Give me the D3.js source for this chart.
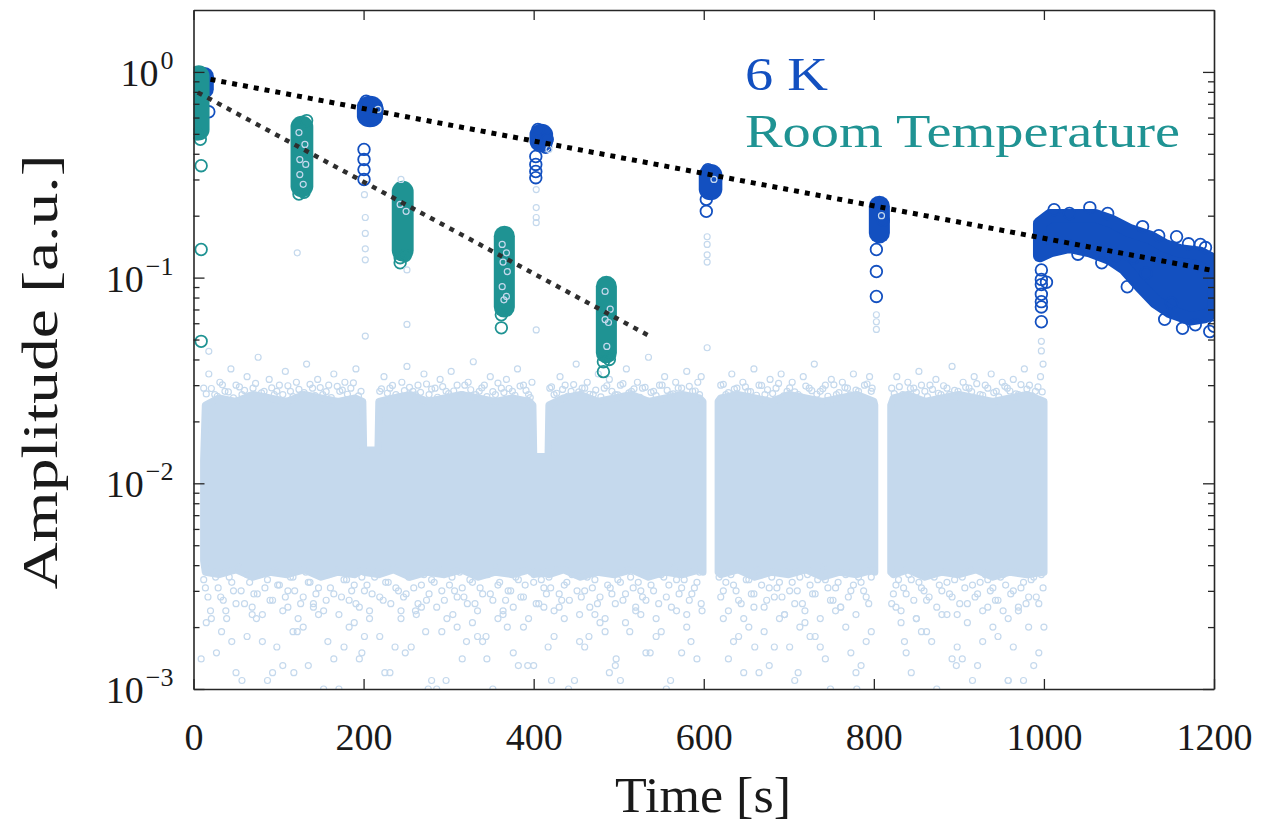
<!DOCTYPE html>
<html>
<head>
<meta charset="utf-8">
<script src="https://cdn.jsdelivr.net/npm/d3@7"></script>
<style>
  html, body { margin: 0; padding: 0; background: #ffffff; }
  svg { display: block; font-family: "Liberation Serif", "Times New Roman", serif; }
</style>
</head>
<body>
<svg id="chart" width="1268" height="825"></svg>
<script>
// ---------- axis ticks ----------
const xTickValues = [0, 200, 400, 600, 800, 1000, 1200];
const xTickLabels = ["0", "200", "400", "600", "800", "1000", "1200"];
const yTickValues = [1e-3, 1e-2, 1e-1, 1];
const yTickExponents = ["\u22123", "\u22122", "\u22121", "0"];
const yMinorTicks = [0.002,0.003,0.004,0.005,0.006,0.007,0.008,0.009,
                     0.02,0.03,0.04,0.05,0.06,0.07,0.08,0.09,
                     0.2,0.3,0.4,0.5,0.6,0.7,0.8,0.9];

// ---------- 6 K series ----------
// dense bursts: [start, end] time and [low, high] amplitude of the packed markers
const k6BurstTime = [[10, 16], [200, 215], [403, 415], [602, 614], [802, 811]];
const k6BurstAmp  = [[0.80, 0.98], [0.58, 0.71], [0.439, 0.519], [0.256, 0.331], [0.158, 0.232]];
// continuous record after 1000 s: upper and lower envelope of the marker centres
const k6BandTopTime = [995, 1007, 1036, 1060, 1078, 1101, 1125, 1142, 1160, 1184, 1200];
const k6BandTopAmp  = [0.183, 0.200, 0.200, 0.200, 0.189, 0.169, 0.157, 0.143, 0.135, 0.131, 0.121];
const k6BandBotTime = [995, 1007, 1030, 1054, 1078, 1095, 1113, 1131, 1148, 1172, 1189, 1200];
const k6BandBotAmp  = [0.128, 0.135, 0.142, 0.135, 0.124, 0.111, 0.0914, 0.0764, 0.0684, 0.0631, 0.0646, 0.0684];
// individual 6 K markers
const k6Points = [
  [17,0.92],[18,0.64],
  [200.5,0.42],[200.5,0.375],[200.5,0.335],[200.5,0.30],[216,0.66],[214,0.60],[203,0.72],[211,0.585],
  [402.5,0.388],[402.5,0.355],[402.5,0.328],[402.5,0.306],[416,0.47],[414,0.43],[405,0.525],
  [603,0.24],[603,0.21],[614,0.30],[605,0.335],
  [803,0.137],[803,0.107],[803,0.081],[811,0.19],
  [997,0.109],[997,0.098],[997,0.0925],[997,0.083],[997,0.0764],[997,0.072],[997,0.061],[1003,0.095],
  [1068,0.118],[1098,0.0903],[1142,0.0627],[1156,0.158],[1184,0.145],[1195,0.0547],[1163,0.0567],
  [1012,0.214],[1054,0.219],[1116,0.177],[1030,0.205],[1075,0.205],[1105,0.125],[1120,0.105],
  [1150,0.075],[1178,0.059],[1200,0.058],[1135,0.16],[1170,0.146],[1190,0.14],[1040,0.13],[1085,0.128]
];

// ---------- room-temperature series ----------
const rtBurstTime = [[1, 11], [122, 133], [241, 251], [361, 370], [481, 490]];
const rtBurstAmp  = [[0.50, 1.0], [0.265, 0.568], [0.129, 0.274], [0.069, 0.166], [0.0413, 0.0946]];
const rtPoints = [
  [8,0.47],[9,0.35],[9,0.137],[9,0.049],[4,0.5],
  [124,0.255],[130,0.26],[133,0.58],
  [243,0.125],[243,0.118],[249,0.128],
  [362,0.066],[362,0.057],
  [482,0.039],[482,0.0349],[489,0.04]
];

// ---------- exponential fits ----------
const fit6KTime = [20, 1200];
const fit6KAmp  = [0.92, 0.108];
const fitRTTime = [5, 540];
const fitRTAmp  = [0.795, 0.051];

// ---------- background (noise) record ----------
// packed core: one envelope per uninterrupted stretch
const noiseCoreTime = [
  [12,14,30,50,70,90,110,130,150,170,190,199,200,217,218,235,255,275,295,315,335,355,375,395,399,400,417,418,435,455,475,495,515,535,555,575,595,599],
  [617,620,640,660,680,700,720,740,760,780,800,801],
  [820,823,840,860,880,900,920,940,960,980,1000]
];
const noiseCoreHigh = [
  [0.013,0.024,0.026,0.025,0.027,0.026,0.025,0.027,0.026,0.025,0.026,0.025,0.0145,0.0145,0.025,0.026,0.027,0.025,0.026,0.027,0.026,0.025,0.026,0.025,0.024,0.0135,0.0135,0.024,0.026,0.027,0.025,0.026,0.027,0.025,0.026,0.027,0.026,0.025],
  [0.025,0.026,0.027,0.026,0.025,0.027,0.026,0.025,0.026,0.027,0.025,0.024],
  [0.024,0.026,0.027,0.025,0.026,0.027,0.026,0.025,0.026,0.027,0.025]
];
const noiseCoreLow = [
  [0.0042,0.0037,0.0036,0.0038,0.0035,0.0037,0.0036,0.0038,0.0035,0.0037,0.0036,0.0038,0.0037,0.0036,0.0036,0.0038,0.0035,0.0037,0.0036,0.0038,0.0035,0.0037,0.0036,0.0038,0.0037,0.0036,0.0037,0.0036,0.0038,0.0035,0.0037,0.0036,0.0038,0.0035,0.0037,0.0036,0.0038,0.0037],
  [0.0037,0.0036,0.0038,0.0035,0.0037,0.0036,0.0038,0.0035,0.0037,0.0036,0.0038,0.0037],
  [0.0037,0.0036,0.0038,0.0035,0.0037,0.0036,0.0038,0.0035,0.0037,0.0036,0.0037]
];
// scattered markers above the core
const noiseUpperPts = [
  [12,0.029],[18,0.034],[25,0.027],[31,0.031],[37,0.028],[44,0.036],[50,0.030],[57,0.027],[63,0.033],[70,0.029],
  [76,0.041],[83,0.028],[89,0.032],[95,0.027],[101,0.030],[108,0.035],[114,0.028],[121,0.031],[127,0.027],[133,0.038],
  [140,0.029],[146,0.032],[152,0.027],[159,0.030],[165,0.034],[172,0.028],[178,0.031],[185,0.029],[191,0.036],[197,0.028],
  [219,0.028],[224,0.033],[231,0.029],[238,0.027],[245,0.031],[251,0.037],[258,0.028],[264,0.030],[271,0.034],[277,0.027],
  [284,0.029],[290,0.032],[297,0.028],[303,0.035],[310,0.030],[316,0.027],[323,0.031],[329,0.039],[336,0.028],[342,0.030],
  [349,0.033],[355,0.027],[362,0.029],[368,0.032],[375,0.028],[381,0.036],[388,0.030],[394,0.027],[398,0.031],
  [419,0.029],[424,0.027],[431,0.033],[437,0.030],[444,0.028],[450,0.038],[457,0.029],[463,0.031],[470,0.027],[476,0.034],
  [483,0.029],[489,0.032],[496,0.027],[502,0.030],[509,0.036],[515,0.028],[522,0.031],[528,0.029],[535,0.041],[541,0.028],
  [548,0.030],[554,0.033],[561,0.027],[567,0.031],[574,0.029],[580,0.035],[587,0.028],[593,0.031],[597,0.033],
  [620,0.030],[626,0.027],[633,0.034],[639,0.029],[646,0.031],[652,0.028],[659,0.036],[665,0.030],[672,0.027],[678,0.032],
  [685,0.029],[691,0.034],[698,0.028],[704,0.031],[711,0.027],[717,0.033],[724,0.029],[730,0.038],[737,0.028],[743,0.030],
  [750,0.032],[756,0.027],[763,0.031],[769,0.029],[776,0.034],[782,0.028],[789,0.030],[795,0.033],[798,0.029],
  [821,0.029],[827,0.033],[834,0.027],[840,0.031],[847,0.029],[853,0.035],[860,0.028],[866,0.030],[873,0.032],[879,0.027],
  [886,0.029],[892,0.037],[899,0.028],[905,0.031],[912,0.029],[918,0.033],[925,0.027],[931,0.030],[938,0.034],[944,0.028],
  [951,0.031],[957,0.029],[964,0.032],[970,0.027],[977,0.036],[983,0.030],[990,0.028],[996,0.033],[999,0.038]
];
// markers hugging the top of the core
const noiseRimTime = [15,21,28,34,41,47,54,60,67,73,80,86,92,98,105,111,117,124,130,137,143,149,156,162,169,175,181,188,194,
  221,228,234,241,248,254,261,267,274,280,287,293,300,306,313,319,326,332,339,345,352,358,365,371,378,384,391,396,
  421,427,434,440,447,453,460,466,473,479,486,492,499,505,512,518,525,531,538,544,551,557,564,570,577,583,590,595,
  623,629,636,642,649,655,662,668,675,681,688,694,701,707,714,720,727,733,740,746,753,759,766,772,779,785,792,797,
  824,830,837,843,850,856,863,869,876,882,889,895,902,908,915,921,928,934,941,947,954,960,967,973,980,986,993,998];
const noiseRimAmp = [
  0.0272,0.0289,0.0265,0.0301,0.0278,0.0260,0.0294,0.0283,0.0268,0.0306,0.0275,0.0262,0.0291,0.0280,0.0270,0.0298,0.0264,0.0286,0.0276,0.0303,
  0.0267,0.0292,0.0279,0.0261,0.0296,0.0284,0.0271,0.0308,0.0266,0.0288,0.0274,0.0299,0.0263,0.0282,0.0293,0.0269,0.0277,0.0304,0.0287,0.0262,
  0.0295,0.0273,0.0281,0.0266,0.0300,0.0285,0.0270,0.0291,0.0264,0.0279,0.0307,0.0276,0.0289,0.0268,0.0297,0.0283,0.0261,0.0294,0.0274,0.0286,
  0.0265,0.0302,0.0278,0.0290,0.0271,0.0284,0.0263,0.0298,0.0280,0.0269,0.0305,0.0275,0.0288,0.0262,0.0293,0.0277,0.0267,0.0300,0.0283,0.0272,
  0.0290,0.0264,0.0296,0.0281,0.0270,0.0303,0.0276,0.0287,0.0261,0.0294,0.0279,0.0268,0.0299,0.0285,0.0273,0.0306,0.0266,0.0291,0.0278,0.0263,
  0.0297,0.0282,0.0271,0.0288,0.0265,0.0301,0.0276,0.0292,0.0269,0.0284,0.0262,0.0304,0.0280,0.0273,0.0295,0.0267,0.0289,0.0277,0.0300,0.0264,
  0.0286,0.0274,0.0298,0.0270,0.0283,0.0261,0.0293,0.0279,0.0305,0.0268,0.0290,0.0276,0.0263,0.0296,0.0281,0.0272,0.0302,0.0287,0.0266,0.0294,
  0.0278,0.0285,0.0271,0.0299];
// semi-packed markers just below the core
const noiseLowerTime = [12,17,24,29,35,42,47,53,60,66,71,78,84,90,96,101,108,114,119,126,
  132,137,144,150,156,161,168,174,180,186,191,198,204,210,216,223,229,234,241,247,
  253,259,264,271,277,283,289,295,301,307,313,318,325,331,337,343,349,355,360,367,
  373,379,385,390,397,403,409,415,420,427,433,439,445,451,456,463,469,475,481,487,
  492,499,505,511,517,523,528,535,541,547,553,559,565,571,577,583,589,595,620,626,
  632,638,644,650,656,662,668,674,680,686,692,698,704,710,716,722,728,734,740,746,
  752,758,764,770,776,782,788,794,799,823,829,835,841,847,853,859,865,871,877,883,
  889,895,901,907,913,919,925,931,937,943,949,955,961,967,973,979,985,991,997];
const noiseLowerAmp = [
  0.0034,0.0028,0.0037,0.0031,0.0027,0.0035,0.0030,0.0039,0.0026,0.0033,0.0029,0.0036,0.0031,0.0027,0.0038,0.0032,0.0028,0.0035,0.0030,0.0026,
  0.0037,0.0033,0.0029,0.0036,0.0027,0.0031,0.0038,0.0028,0.0034,0.0030,0.0026,0.0035,0.0032,0.0029,0.0037,0.0027,0.0033,0.0039,0.0030,0.0028,
  0.0035,0.0031,0.0026,0.0036,0.0029,0.0033,0.0038,0.0027,0.0032,0.0030,0.0037,0.0028,0.0034,0.0026,0.0031,0.0036,0.0029,0.0039,0.0033,0.0027,
  0.0030,0.0035,0.0028,0.0032,0.0037,0.0026,0.0034,0.0029,0.0031,0.0038,0.0027,0.0033,0.0036,0.0030,0.0028,0.0035,0.0031,0.0026,0.0037,0.0032,
  0.0029,0.0034,0.0027,0.0038,0.0031,0.0033,0.0028,0.0036,0.0030,0.0026,0.0035,0.0032,0.0039,0.0029,0.0034,0.0027,0.0031,0.0037,0.0028,0.0033,
  0.0036,0.0030,0.0026,0.0034,0.0029,0.0038,0.0032,0.0027,0.0035,0.0031,0.0028,0.0037,0.0033,0.0030,0.0026,0.0036,0.0029,0.0034,0.0039,0.0031,
  0.0027,0.0033,0.0037,0.0028,0.0032,0.0035,0.0030,0.0026,0.0038,0.0029,0.0034,0.0031,0.0036,0.0027,0.0033,0.0030,0.0028,0.0035,0.0032,0.0037,
  0.0029,0.0034,0.0026,0.0031,0.0038,0.0028,0.0033,0.0036,0.0030,0.0027,0.0035,0.0032,0.0029,0.0037,0.0031,0.0026,0.0034,0.0028,0.0036];
const noiseLower2Time = [14,20,26,32,39,45,50,56,63,69,75,81,87,93,99,105,111,117,123,129,
  135,141,147,153,159,165,171,177,183,189,195,201,207,213,219,226,232,238,244,250,
  256,262,268,274,280,286,292,298,304,310,316,322,328,334,340,346,352,358,364,370,
  376,382,388,394,400,406,412,418,424,430,436,442,448,454,460,466,472,478,484,490,
  496,502,508,514,520,526,532,538,544,550,556,562,568,574,580,586,592,597,618,623,
  629,635,641,647,653,659,665,671,677,683,689,695,701,707,713,719,725,731,737,743,
  749,755,761,767,773,779,785,791,797,821,826,832,838,844,850,856,862,868,874,880,
  886,892,898,904,910,916,922,928,934,940,946,952,958,964,970,976,982,988,994,999];
const noiseLower2Amp = [
  0.0031,0.0024,0.0035,0.0028,0.0022,0.0033,0.0026,0.0030,0.0036,0.0025,0.0029,0.0023,0.0034,0.0027,0.0032,0.0024,0.0030,0.0035,0.0022,0.0028,
  0.0033,0.0026,0.0031,0.0024,0.0036,0.0029,0.0023,0.0034,0.0027,0.0032,0.0025,0.0030,0.0022,0.0035,0.0028,0.0033,0.0026,0.0031,0.0024,0.0029,
  0.0036,0.0023,0.0032,0.0027,0.0034,0.0025,0.0030,0.0022,0.0035,0.0028,0.0031,0.0026,0.0033,0.0024,0.0029,0.0036,0.0027,0.0032,0.0023,0.0030,
  0.0025,0.0034,0.0028,0.0022,0.0033,0.0026,0.0031,0.0035,0.0024,0.0029,0.0032,0.0027,0.0036,0.0023,0.0030,0.0025,0.0034,0.0028,0.0022,0.0031,
  0.0026,0.0033,0.0029,0.0035,0.0024,0.0030,0.0027,0.0032,0.0022,0.0036,0.0028,0.0025,0.0034,0.0031,0.0023,0.0029,0.0033,0.0026,0.0035,0.0030,
  0.0024,0.0032,0.0027,0.0022,0.0034,0.0029,0.0036,0.0025,0.0031,0.0028,0.0033,0.0023,0.0030,0.0026,0.0035,0.0024,0.0032,0.0029,0.0022,0.0034,
  0.0027,0.0031,0.0025,0.0036,0.0030,0.0023,0.0033,0.0028,0.0035,0.0026,0.0032,0.0024,0.0029,0.0034,0.0022,0.0031,0.0027,0.0036,0.0025,0.0030,
  0.0033,0.0028,0.0023,0.0035,0.0026,0.0032,0.0029,0.0024,0.0034,0.0031,0.0027,0.0036,0.0022,0.0030,0.0025,0.0033,0.0028,0.0035,0.0026,0.0031];
// sparse tail down to 1e-3
const noiseTailTime = [15,27,38,50,63,74,87,98,111,122,135,147,158,171,183,195,207,219,231,244,
  256,268,280,292,305,316,328,340,352,364,376,388,400,412,424,436,448,460,472,484,
  496,508,520,532,544,556,568,580,592,623,635,647,659,671,683,695,707,719,731,743,
  755,767,779,791,826,838,850,862,874,886,898,910,922,934,946,958,970,982,994,
  21,45,69,93,117,141,165,189,237,261,286,310,334,358,382,430,454,478,502,526,
  550,574,598,641,665,689,713,737,761,785,832,856,880,904,928,952,976,1000,
  9,33,57,81,105,129,153,177,201,225,249,273,297,321,345,369,393,417,441,465,
  489,513,537,561,585,629,653,677,701,725,749,773,797,844,868,892,916,940,964,988,
  52,118,198,276,344,421,497,563,660,711,780,836,897,958];
const noiseTailAmp = [
  0.0021,0.0015,0.0024,0.0012,0.0018,0.0022,0.0011,0.0016,0.0025,0.0019,0.0013,0.0023,0.0017,0.0010,0.0020,0.0014,0.0024,0.0018,0.0012,0.0022,
  0.0016,0.0025,0.0011,0.0019,0.0023,0.0014,0.0021,0.0017,0.0010,0.0024,0.0015,0.0020,0.0013,0.0025,0.0018,0.0022,0.0011,0.0016,0.0023,0.0019,
  0.0013,0.0021,0.0025,0.0015,0.0018,0.0010,0.0024,0.0020,0.0014,0.0022,0.0017,0.0012,0.0025,0.0019,0.0016,0.0023,0.0011,0.0021,0.0018,0.0014,
  0.0024,0.0020,0.0012,0.0017,0.0025,0.0015,0.0022,0.0019,0.0010,0.0023,0.0016,0.0021,0.0013,0.0025,0.0018,0.0011,0.0024,0.0020,0.0015,0.0022,
  0.0017,0.0023,0.0012,0.0019,0.0025,0.0014,0.0021,0.0016,0.0024,0.0010,0.0020,0.0018,0.0022,0.0013,0.0025,0.0017,0.0021,0.0011,0.0023,0.0019,
  0.0015,0.0024,0.0018,0.0012,0.0022,0.0020,0.0016,0.0025,0.0013,0.0021,0.0019,0.0023,0.0014,0.0017,0.0024,0.0011,0.0020,
  0.0014,0.0019,0.0011,0.0017,0.0013,0.0020,0.0010,0.0016,0.0018,0.0012,0.0015,0.0019,0.0011,0.0017,0.0014,0.0020,0.0013,0.0016,0.0010,0.0018,
  0.0012,0.0019,0.0015,0.0011,0.0017,0.0014,0.0020,0.0013,0.0016,0.0018,0.0010,0.0015,0.0019,0.0012,0.0017,0.0014,0.0011,0.0020,0.0016,0.0013,
  0.0009,0.0012,0.0015,0.0010,0.0018,0.0011,0.0014,0.0009,0.0016,0.0012,0.0010,0.0017,0.0013,0.0011];
// background markers that sit among / beneath the bursts
const noiseHighPts = [
  [124,0.507],[131,0.444],[125,0.375],[132,0.355],[125,0.317],[129,0.284],[122,0.132],
  [243,0.227],[250,0.21],[244,0.30],[251,0.109],[251,0.0592],
  [363,0.145],[368,0.132],[364,0.119],[369,0.107],[363,0.0904],[368,0.081],[365,0.078],
  [484,0.0857],[490,0.0702],[484,0.0625],[488,0.0605],[486,0.0463],
  [18,0.0438],
  [217,0.657],[201,0.253],[202,0.196],[202,0.164],[202,0.138],[202,0.122],[202,0.052],
  [418,0.42],[403,0.268],[403,0.219],[403,0.196],[403,0.185],[403,0.0557],
  [612,0.30],[604,0.158],[604,0.145],[604,0.129],[604,0.119],[604,0.0456],
  [809,0.20],[803,0.066],[803,0.061],[803,0.056],
  [997,0.049],[997,0.044]
];

// ---------- drawing ----------
const C_6K = "#1350c0";
const C_RT = "#1f9393";
const C_BG = "#c5d9ed";
const C_AX = "#262626";

const svg = d3.select("#chart");
const x = d3.scaleLinear().domain([0, 1200]).range([193.5, 1214]);
const y = d3.scaleLog().domain([1e-3, 2]).range([689, 10]);

svg.append("defs").append("clipPath").attr("id", "plotClip")
  .append("rect")
  .attr("x", x(0)).attr("y", y(2))
  .attr("width", x(1200) - x(0)).attr("height", y(1e-3) - y(2));

const plot = svg.append("g").attr("clip-path", "url(#plotClip)");

const R_BIG = 5.8, SW_BIG = 1.8;
const R_SMALL = 3.0, SW_SMALL = 1.2;

function markers(g, pts, r, sw, color) {
  g.append("g").selectAll("circle").data(pts).join("circle")
    .attr("cx", d => x(d[0])).attr("cy", d => y(d[1]))
    .attr("r", r).attr("fill", "none")
    .attr("stroke", color).attr("stroke-width", sw);
}
function bursts(g, times, amps, color) {
  const pad = R_BIG + SW_BIG / 2;
  g.append("g").selectAll("rect").data(d3.zip(times, amps)).join("rect")
    .attr("x", d => x(d[0][0]) - pad)
    .attr("width", d => x(d[0][1]) - x(d[0][0]) + 2 * pad)
    .attr("y", d => y(d[1][1]) - pad)
    .attr("height", d => y(d[1][0]) - y(d[1][1]) + 2 * pad)
    .attr("rx", d => (x(d[0][1]) - x(d[0][0])) / 2 + pad)
    .attr("ry", d => Math.min((x(d[0][1]) - x(d[0][0])) / 2 + pad, 11))
    .attr("fill", color);
}

// background core (packed markers)
const coreArea = d3.area()
  .x(d => x(d[0])).y0(d => y(d[2])).y1(d => y(d[1]));
plot.append("g").selectAll("path")
  .data(noiseCoreTime.map((ts, i) => d3.zip(ts, noiseCoreHigh[i], noiseCoreLow[i])))
  .join("path")
  .attr("d", coreArea)
  .attr("fill", C_BG).attr("stroke", C_BG)
  .attr("stroke-width", 2 * R_SMALL + SW_SMALL).attr("stroke-linejoin", "round");

markers(plot, d3.zip(noiseLowerTime, noiseLowerAmp), R_SMALL, SW_SMALL, C_BG);
markers(plot, d3.zip(noiseLower2Time, noiseLower2Amp), R_SMALL, SW_SMALL, C_BG);
markers(plot, d3.zip(noiseTailTime, noiseTailAmp), R_SMALL, SW_SMALL, C_BG);
markers(plot, d3.zip(noiseRimTime, noiseRimAmp), R_SMALL, SW_SMALL, C_BG);
markers(plot, noiseUpperPts, R_SMALL, SW_SMALL, C_BG);

// 6 K bursts and continuous record
bursts(plot, k6BurstTime, k6BurstAmp, C_6K);
const bandPts = d3.zip(k6BandTopTime, k6BandTopAmp)
  .concat(d3.zip(k6BandBotTime, k6BandBotAmp).reverse());
plot.append("path")
  .attr("d", d3.line().x(d => x(d[0])).y(d => y(d[1]))(bandPts) + "Z")
  .attr("fill", C_6K).attr("stroke", C_6K)
  .attr("stroke-width", 2 * R_BIG + SW_BIG).attr("stroke-linejoin", "round");
markers(plot, k6Points, R_BIG, SW_BIG, C_6K);

// room-temperature bursts
bursts(plot, rtBurstTime, rtBurstAmp, C_RT);
markers(plot, rtPoints, R_BIG, SW_BIG, C_RT);

// background markers drawn over the bursts
markers(plot, noiseHighPts, R_SMALL, SW_SMALL, C_BG);

// fitted decays
const fitLine = d3.line().x(d => x(d[0])).y(d => y(d[1]));
plot.append("path")
  .attr("d", fitLine(d3.zip(fitRTTime, fitRTAmp)))
  .attr("fill", "none").attr("stroke", "#2e2e2e")
  .attr("stroke-width", 4.5).attr("stroke-dasharray", "5 6");
plot.append("path")
  .attr("d", fitLine(d3.zip(fit6KTime, fit6KAmp)))
  .attr("fill", "none").attr("stroke", "#000000")
  .attr("stroke-width", 5).attr("stroke-dasharray", "5 6");

// ---------- axes ----------
function styleAxis(g) {
  g.attr("font-family", null).attr("font-size", null);
  g.selectAll(".domain").attr("stroke", C_AX).attr("stroke-width", 1.6);
  g.selectAll(".tick line").attr("stroke", C_AX).attr("stroke-width", 1.3);
  g.selectAll(".tick text").attr("fill", "#1a1a1a");
}

const gBottom = svg.append("g")
  .attr("transform", `translate(0,${y(1e-3)})`)
  .call(d3.axisBottom(x).tickValues(xTickValues).tickSize(-10).tickSizeOuter(0)
    .tickPadding(34).tickFormat((d, i) => xTickLabels[i]));
styleAxis(gBottom);
gBottom.selectAll(".tick text").attr("font-size", 38);

const gTop = svg.append("g")
  .attr("transform", `translate(0,${y(2)})`)
  .call(d3.axisTop(x).tickValues(xTickValues).tickSize(-10).tickSizeOuter(0).tickFormat(""));
styleAxis(gTop);

const gLeft = svg.append("g")
  .attr("transform", `translate(${x(0)},0)`)
  .call(d3.axisLeft(y).tickValues(yTickValues).tickSize(-11).tickSizeOuter(0)
    .tickPadding(20).tickFormat(""));
styleAxis(gLeft);
gLeft.selectAll(".tick text").each(function (d, i) {
  const t = d3.select(this).attr("font-size", 38).attr("dy", "0.36em");
  t.append("tspan").text("10");
  t.append("tspan").attr("dy", -17).attr("dx", 2).attr("font-size", 26).text(yTickExponents[i]);
});
const gLeftMinor = svg.append("g")
  .attr("transform", `translate(${x(0)},0)`)
  .call(d3.axisLeft(y).tickValues(yMinorTicks).tickSize(-6).tickSizeOuter(0).tickFormat(""));
styleAxis(gLeftMinor);
gLeftMinor.select(".domain").remove();

const gRight = svg.append("g")
  .attr("transform", `translate(${x(1200)},0)`)
  .call(d3.axisRight(y).tickValues(yTickValues).tickSize(-11).tickSizeOuter(0).tickFormat(""));
styleAxis(gRight);
const gRightMinor = svg.append("g")
  .attr("transform", `translate(${x(1200)},0)`)
  .call(d3.axisRight(y).tickValues(yMinorTicks).tickSize(-6).tickSizeOuter(0).tickFormat(""));
styleAxis(gRightMinor);
gRightMinor.select(".domain").remove();

// axis titles
svg.append("text")
  .attr("x", 703).attr("y", 812)
  .attr("text-anchor", "middle").attr("font-size", 50).attr("fill", "#1a1a1a")
  .attr("textLength", 176).attr("lengthAdjust", "spacingAndGlyphs")
  .text("Time [s]");
svg.append("text")
  .attr("transform", "translate(57,372) rotate(-90)")
  .attr("text-anchor", "middle").attr("font-size", 50).attr("fill", "#1a1a1a")
  .attr("textLength", 435).attr("lengthAdjust", "spacingAndGlyphs")
  .text("Amplitude [a.u.]");

// series labels
svg.append("text")
  .attr("x", 745).attr("y", 90)
  .attr("font-size", 46).attr("fill", C_6K)
  .attr("textLength", 83).attr("lengthAdjust", "spacingAndGlyphs")
  .text("6 K");
svg.append("text")
  .attr("x", 745).attr("y", 147)
  .attr("font-size", 46).attr("fill", C_RT)
  .attr("textLength", 435).attr("lengthAdjust", "spacingAndGlyphs")
  .text("Room Temperature");
</script>
</body>
</html>
